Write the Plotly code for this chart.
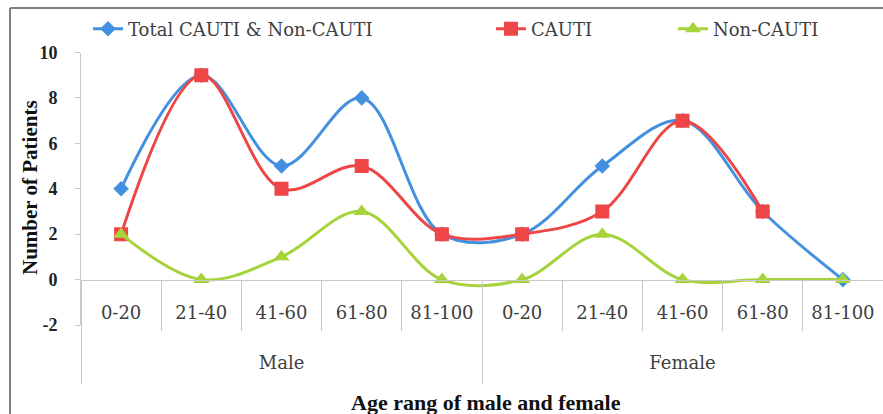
import plotly.graph_objects as go

groups = ["Male", "Female"]
age_ranges = ["0-20", "21-40", "41-60", "61-80", "81-100"]
tick_labels = age_ranges * len(groups)

total = [4, 9, 5, 8, 2, 2, 5, 7, 3, 0]
cauti = [2, 9, 4, 5, 2, 2, 3, 7, 3, None]
non_cauti = [2, 0, 1, 3, 0, 0, 2, 0, 0, 0]

y_ticks = [-2, 0, 2, 4, 6, 8, 10]

n = len(tick_labels)
k = len(age_ranges)
xpos = list(range(n))
group_centers = [g * k + (k - 1) / 2 for g in range(len(groups))]
inner_bounds = [i - 0.5 for i in range(n + 1)]
outer_bounds = [g * k - 0.5 for g in range(len(groups) + 1)]

W, H = 883, 414
y_top_px, y_bot_px = 52.5, 325.0
x_left_px, x_right_px = 81.0, 883.0
ymin, ymax = -2, 10
d0 = (H - y_bot_px) / H
d1 = (H - y_top_px) / H
zero_pos = d0 + (0 - ymin) / (ymax - ymin) * (d1 - d0)
xdom = [x_left_px / W, x_right_px / W]
xrange_ = [-0.5, n - 0.5]

BLUE = "#4390E0"
RED = "#EE4646"
GREEN = "#A6D339"
AX = "#C8C8C8"
SERIF = "DejaVu Serif"
BOLD_SERIF = "Liberation Serif"

fig = go.Figure()
fig.add_trace(go.Scatter(
    x=xpos, y=total, name="Total CAUTI & Non-CAUTI", mode="lines+markers",
    line=dict(color=BLUE, width=3, shape="spline", smoothing=1),
    marker=dict(symbol="diamond", size=12, color=BLUE), legend="legend"))
fig.add_trace(go.Scatter(
    x=xpos, y=cauti, name="CAUTI", mode="lines+markers",
    line=dict(color=RED, width=3, shape="spline", smoothing=1),
    marker=dict(symbol="square", size=14, color=RED), legend="legend2"))
fig.add_trace(go.Scatter(
    x=xpos, y=non_cauti, name="Non-CAUTI", mode="lines+markers",
    xaxis="x2", yaxis="y",
    line=dict(color=GREEN, width=3, shape="spline", smoothing=1),
    marker=dict(symbol="triangle-up", size=14, color=GREEN), legend="legend3"))

leg_common = dict(orientation="h", yanchor="middle", y=(H - 29) / H, xanchor="left",
                  font=dict(family=SERIF, size=18, color="#404040"),
                  bgcolor="rgba(0,0,0,0)")
fig.update_layout(
    width=W, height=H,
    margin=dict(l=0, r=0, t=0, b=0),
    paper_bgcolor="white", plot_bgcolor="white",
    showlegend=True,
    legend=dict(x=88 / W, **leg_common),
    legend2=dict(x=491 / W, **leg_common),
    legend3=dict(x=673 / W, **leg_common),
    xaxis=dict(
        domain=xdom, range=xrange_, anchor="free", position=zero_pos,
        showline=True, linecolor=AX, linewidth=1,
        tickmode="array", tickvals=xpos, ticktext=tick_labels, ticks="",
        ticklabelstandoff=17,
        tickfont=dict(family=SERIF, size=18, color="#404040"),
        minor=dict(tickmode="array", tickvals=inner_bounds, ticks="outside",
                   ticklen=50, tickcolor=AX, tickwidth=1, showgrid=False),
        showgrid=False, zeroline=False, automargin=False,
    ),
    xaxis2=dict(
        domain=xdom, range=xrange_, anchor="free", position=zero_pos,
        overlaying="x", side="bottom", showline=False,
        tickmode="array", tickvals=group_centers, ticktext=groups, ticks="",
        ticklabelstandoff=70,
        tickfont=dict(family=SERIF, size=18, color="#404040"),
        minor=dict(tickmode="array", tickvals=outer_bounds, ticks="outside",
                   ticklen=103, tickcolor=AX, tickwidth=1, showgrid=False),
        showgrid=False, zeroline=False, automargin=False,
    ),
    yaxis=dict(
        domain=[d0, d1], range=[ymin, ymax],
        tickmode="array", tickvals=y_ticks, ticktext=[str(v) for v in y_ticks],
        showline=True, linecolor=AX, linewidth=1,
        ticks="outside", ticklen=5, tickcolor=AX,
        ticklabelstandoff=14,
        tickfont=dict(family=BOLD_SERIF, size=18, color="#222222", weight="bold"),
        showgrid=False, zeroline=False, automargin=False,
    ),
    annotations=[
        dict(text="<b>Number of Patients</b>", xref="paper", yref="paper",
             x=30 / W, y=(H - 188) / H, textangle=-90, showarrow=False,
             font=dict(family=BOLD_SERIF, size=21, color="#111111"),
             xanchor="center", yanchor="middle"),
        dict(text="<b>Age rang of male and female</b>", xref="paper", yref="paper",
             x=486 / W, y=(H - 402) / H, showarrow=False,
             font=dict(family=BOLD_SERIF, size=22, color="#111111"),
             xanchor="center", yanchor="middle"),
    ],
    shapes=[
        dict(type="line", xref="paper", yref="paper", x0=10 / W, x1=10 / W,
             y0=0, y1=(H - 8) / H, line=dict(color="#808080", width=2)),
        dict(type="line", xref="paper", yref="paper", x0=10 / W, x1=1,
             y0=(H - 8) / H, y1=(H - 8) / H, line=dict(color="#808080", width=2)),
    ],
)

fig.write_html("out.html", config={"displayModeBar": False},
               post_script="document.body.style.margin='0';")
